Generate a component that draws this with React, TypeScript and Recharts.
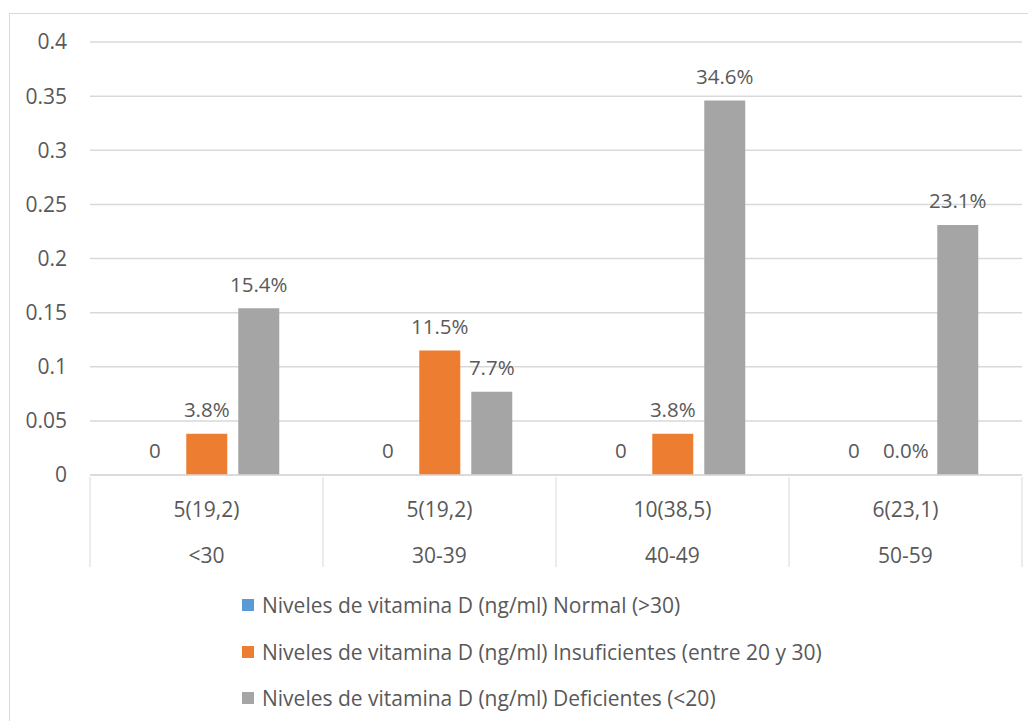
import React from "react";
import { ComposedChart, Bar, XAxis, YAxis, CartesianGrid, Legend, LabelList, Rectangle } from "recharts";

const categories = ["<30", "30-39", "40-49", "50-59"];
const counts = ["5(19,2)", "5(19,2)", "10(38,5)", "6(23,1)"];
const normal = [0, 0, 0, 0];
const insuficientes = [0.038, 0.115, 0.038, 0];
const deficientes = [0.154, 0.077, 0.346, 0.231];
const yTicks = [0, 0.05, 0.1, 0.15, 0.2, 0.25, 0.3, 0.35, 0.4];

const seriesNames = [
  "Niveles de vitamina D (ng/ml) Normal (>30)",
  "Niveles de vitamina D (ng/ml) Insuficientes (entre 20 y 30)",
  "Niveles de vitamina D (ng/ml) Deficientes (<20)",
];
const colors = ["#5B9BD5", "#ED7D31", "#A5A5A5"];

const data = categories.map((c, i) => ({
  cat: c,
  count: counts[i],
  normal: normal[i],
  ins: insuficientes[i],
  def: deficientes[i],
}));

const FONT = "'Open Sans', sans-serif";
const TEXT = "#595959";

const pct = (v: any) => (Number(v) * 100).toFixed(1) + "%";

const CatTick = (props: any) => {
  const { x, y, payload, index, visibleTicksCount, width } = props;
  const n = visibleTicksCount || 4;
  const band = (width || 932) / n;
  const left = x - band / 2;
  const right = x + band / 2;
  return (
    <g>
      <line x1={left} y1={y} x2={left} y2={y + 90} stroke="#d9d9d9" strokeWidth={1} />
      {index === n - 1 && (
        <line x1={right} y1={y} x2={right} y2={y + 90} stroke="#d9d9d9" strokeWidth={1} />
      )}
      <text x={x} y={y + 32} textAnchor="middle" dominantBaseline="central" fill={TEXT} fontSize={21} fontFamily={FONT}>
        {counts[index]}
      </text>
      <text x={x} y={y + 78} textAnchor="middle" dominantBaseline="central" fill={TEXT} fontSize={21} fontFamily={FONT}>
        {payload.value}
      </text>
    </g>
  );
};

const BarShape = (props: any) => {
  const v = Number(props.value);
  if (!v) return <g />;
  return <Rectangle {...props} />;
};

const LegendContent = () => (
  <div style={{ paddingLeft: 222, paddingTop: 17, fontFamily: FONT, fontSize: 21, color: TEXT }}>
    {seriesNames.map((n, i) => (
      <div key={n} style={{ height: 46.5, display: "flex", alignItems: "center", whiteSpace: "nowrap" }}>
        <span style={{ display: "inline-block", width: 12, height: 12, background: colors[i], marginRight: 8, flexShrink: 0 }} />
        <span>{n}</span>
      </div>
    ))}
  </div>
);

const labelProps = { position: "top" as const, offset: 16.5, fill: TEXT, fontSize: 20.5, fontFamily: FONT };

export default function App() {
  return (
    <div style={{ marginLeft: 1, marginTop: 5, width: 1019, height: 707, border: "1px solid #d9d9d9", background: "#fff" }}>
      <ComposedChart
        width={1019}
        height={707}
        data={data}
        margin={{ top: 28, right: 7, bottom: 0, left: 10 }}
        barCategoryGap="19%"
        barGap={11}
      >
        <CartesianGrid vertical={false} stroke="#d9d9d9" strokeWidth={1.5} />
        <XAxis
          dataKey="cat"
          height={90}
          tickLine={false}
          tickSize={0}
          axisLine={{ stroke: "#d9d9d9", strokeWidth: 1.5 }}
          interval={0}
          tick={<CatTick />}
        />
        <YAxis
          width={70}
          domain={[0, 0.4]}
          ticks={yTicks}
          tickLine={false}
          axisLine={false}
          tickSize={6}
          tickMargin={17}
          tick={{ fill: TEXT, fontSize: 21, fontFamily: FONT }}
        />
        <Legend verticalAlign="bottom" height={156} content={<LegendContent />} />
        <Bar dataKey="normal" fill={colors[0]} isAnimationActive={false} minPointSize={1} shape={<BarShape />}>
          <LabelList dataKey="normal" {...labelProps} formatter={(v: any) => String(v)} />
        </Bar>
        <Bar dataKey="ins" fill={colors[1]} isAnimationActive={false} minPointSize={1} shape={<BarShape />}>
          <LabelList dataKey="ins" {...labelProps} formatter={pct} />
        </Bar>
        <Bar dataKey="def" fill={colors[2]} isAnimationActive={false} minPointSize={1} shape={<BarShape />}>
          <LabelList dataKey="def" {...labelProps} formatter={pct} />
        </Bar>
      </ComposedChart>
    </div>
  );
}
